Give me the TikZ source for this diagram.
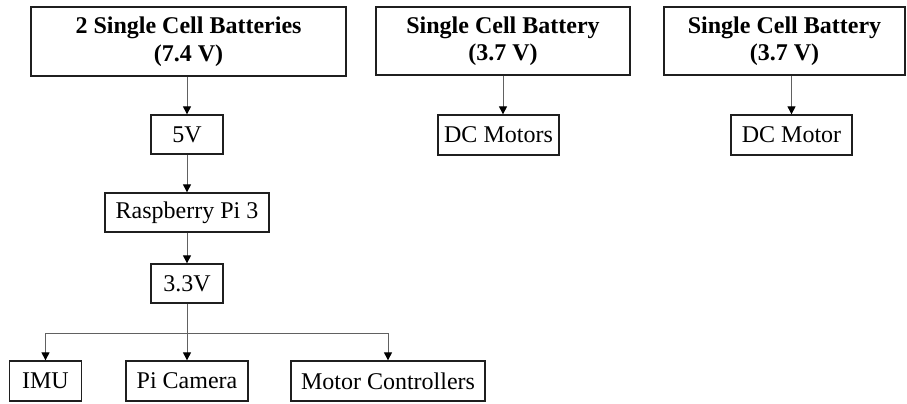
\documentclass[tikz,border=0pt]{standalone}
\usepackage{fontspec}
\setmainfont{Liberation Serif}
\usetikzlibrary{arrows.meta}
\begin{document}
\begin{tikzpicture}[x=1pt,y=-1pt,
  box/.style={draw=black!88,line width=1.3pt,inner sep=0pt,align=center,
    font=\fontsize{24}{27.5}\selectfont},
  bbox/.style={box,font=\fontsize{24}{27.5}\selectfont\bfseries},
  arr/.style={draw=black!62,line width=1pt,
    -{Triangle[width=8pt,length=8pt,color=black]}}]
\useasboundingbox (0,0) rectangle (907,404);
% left column
\node[bbox,minimum width=315pt,minimum height=69pt] (b1) at (188.5,41.5) {2 Single Cell Batteries\\(7.4 V)};
\node[box,minimum width=72pt,minimum height=39pt] (v5) at (187,134.5) {5V};
\node[box,minimum width=164pt,minimum height=39pt] (rpi) at (187,212.5) {Raspberry Pi 3};
\node[box,minimum width=72pt,minimum height=39pt] (v33) at (187,283.5) {3.3V};
\node[box,minimum width=72pt,minimum height=40pt] (imu) at (45.5,381) {IMU};
\node[box,minimum width=122pt,minimum height=40pt] (cam) at (187,381) {Pi Camera};
\node[box,minimum width=194pt,minimum height=40pt] (mc) at (388,381) {Motor Controllers};
% middle column
\node[bbox,minimum width=254pt,minimum height=68pt] (b2) at (503,41) {Single Cell Battery\\(3.7 V)};
\node[box,minimum width=121pt,minimum height=40pt] (dcm) at (498.5,135) {DC Motors};
% right column
\node[bbox,minimum width=241pt,minimum height=68pt] (b3) at (784.5,41) {Single Cell Battery\\(3.7 V)};
\node[box,minimum width=121pt,minimum height=40pt] (dcm2) at (791.5,135) {DC Motor};
% connectors
\draw[arr] (v5.north |- b1.south) -- (v5.north);
\draw[arr] (v5.south) -- (rpi.north);
\draw[arr] (rpi.south) -- (v33.north);
\draw[arr] (v33.south) -- (cam.north);
\coordinate (j) at (187,333);
\draw[arr] (j) -| (imu.north);
\draw[arr] (j) -| (mc.north);
\draw[arr] (b2.south) -- (b2.south |- dcm.north);
\draw[arr] (dcm2.north |- b3.south) -- (dcm2.north);
\end{tikzpicture}
\end{document}
